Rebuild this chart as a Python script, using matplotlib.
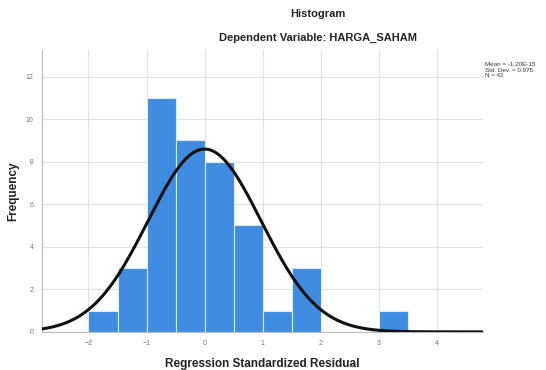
import numpy as np
import matplotlib
matplotlib.use("Agg")
import matplotlib.pyplot as plt

plt.rcParams['font.family'] = ['Liberation Sans', 'DejaVu Sans']

# histogram bins (left edges, width 0.5) and counts
bin_left = [-2.0, -1.5, -1.0, -0.5, 0.0, 0.5, 1.0, 1.5, 3.0]
counts = [1, 3, 11, 9, 8, 5, 1, 3, 1]
bin_width = 0.5

mean = -1.205e-15
std = 0.975
n = 42

x_ticks = [-2, -1, 0, 1, 2, 3, 4]
y_ticks = [0, 2, 4, 6, 8, 10, 12]

fig = plt.figure(figsize=(5.46, 3.70), dpi=100)
ax = fig.add_axes([0.077, 0.103, 0.808, 0.762])

ax.bar(bin_left, counts, width=bin_width, align='edge',
       color='#3f8ce0', edgecolor='#dce9f8', linewidth=0.8, zorder=2)

xs = np.linspace(-2.8, 4.8, 400)
ys = n * bin_width / (std * np.sqrt(2 * np.pi)) * np.exp(-0.5 * ((xs - mean) / std) ** 2)
ax.plot(xs, ys, color='#111111', lw=2.2, zorder=3)

ax.set_xlim(-2.8, 4.8)
ax.set_ylim(0, 13.25)
ax.set_xticks(x_ticks)
ax.set_yticks(y_ticks)
ax.tick_params(labelsize=5, colors='#777777', length=0, pad=6)
ax.grid(True, color='#e2e2e2', lw=0.8, zorder=0)
ax.set_axisbelow(True)
for s in ['top', 'right']:
    ax.spines[s].set_visible(False)
for s in ['left', 'bottom']:
    ax.spines[s].set_color('#bbbbbb')
    ax.spines[s].set_linewidth(0.8)

ax.set_xlabel('Regression Standardized Residual', fontsize=8.5, fontweight='bold',
              color='#222222', labelpad=8)
ax.set_ylabel('Frequency', fontsize=8.5, fontweight='bold', color='#222222', labelpad=5)

fig.text(0.582, 0.962, 'Histogram', ha='center', va='center', fontsize=8,
         fontweight='bold', color='#222222')
fig.text(0.582, 0.897, 'Dependent Variable: HARGA_SAHAM', ha='center', va='center',
         fontsize=8, fontweight='bold', color='#222222')

fig.text(0.888, 0.832, 'Mean = -1.20E-15\nStd. Dev. = 0.975\nN = 42', ha='left',
         va='top', fontsize=4.5, color='#333333', linespacing=1.1)

fig.savefig('out.png', dpi=100, facecolor='white')
